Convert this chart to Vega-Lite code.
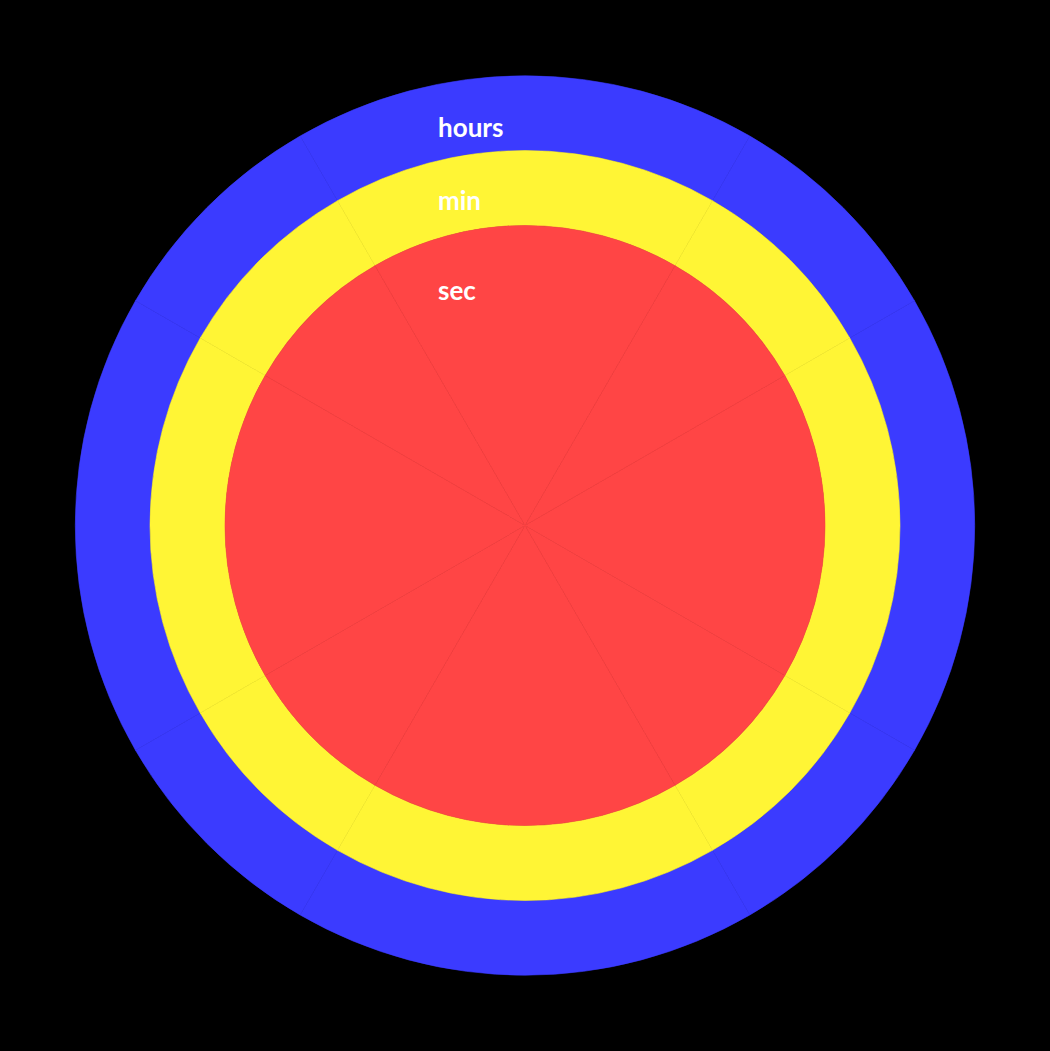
{
  "$schema": "https://vega.github.io/schema/vega-lite/v6.json",
  "width": 1050,
  "height": 1051,
  "autosize": {"type": "fit", "contains": "padding"},
  "padding": 0,
  "background": "#000000",
  "config": {"view": {"stroke": null}},
  "data": {
    "values": [
      {"ring": "hours", "seg": 1, "span": 60},
      {"ring": "hours", "seg": 2, "span": 30},
      {"ring": "hours", "seg": 3, "span": 60},
      {"ring": "hours", "seg": 4, "span": 30},
      {"ring": "hours", "seg": 5, "span": 60},
      {"ring": "hours", "seg": 6, "span": 30},
      {"ring": "hours", "seg": 7, "span": 60},
      {"ring": "hours", "seg": 8, "span": 30},
      {"ring": "min", "seg": 1, "span": 60},
      {"ring": "min", "seg": 2, "span": 30},
      {"ring": "min", "seg": 3, "span": 60},
      {"ring": "min", "seg": 4, "span": 30},
      {"ring": "min", "seg": 5, "span": 60},
      {"ring": "min", "seg": 6, "span": 30},
      {"ring": "min", "seg": 7, "span": 60},
      {"ring": "min", "seg": 8, "span": 30},
      {"ring": "sec", "seg": 1, "span": 60},
      {"ring": "sec", "seg": 2, "span": 30},
      {"ring": "sec", "seg": 3, "span": 60},
      {"ring": "sec", "seg": 4, "span": 30},
      {"ring": "sec", "seg": 5, "span": 60},
      {"ring": "sec", "seg": 6, "span": 30},
      {"ring": "sec", "seg": 7, "span": 60},
      {"ring": "sec", "seg": 8, "span": 30}
    ]
  },
  "layer": [
    {
      "transform": [{"filter": "datum.ring === 'hours'"}],
      "mark": {"type": "arc", "radius": 449.7, "radius2": 375, "fill": "#3b3bff", "stroke": "#3b3bff", "strokeWidth": 0.6},
      "encoding": {
        "theta": {"field": "span", "type": "quantitative", "stack": true, "scale": {"range": [-0.5236, 5.7596]}},
        "order": {"field": "seg", "type": "quantitative"}
      }
    },
    {
      "transform": [{"filter": "datum.ring === 'min'"}],
      "mark": {"type": "arc", "radius": 375, "radius2": 300, "fill": "#fff535", "stroke": "#fff535", "strokeWidth": 0.6},
      "encoding": {
        "theta": {"field": "span", "type": "quantitative", "stack": true, "scale": {"range": [-0.5236, 5.7596]}},
        "order": {"field": "seg", "type": "quantitative"}
      }
    },
    {
      "transform": [{"filter": "datum.ring === 'sec'"}],
      "mark": {"type": "arc", "radius": 300, "radius2": 0, "fill": "#ff4545", "stroke": "#ff4545", "strokeWidth": 0.6},
      "encoding": {
        "theta": {"field": "span", "type": "quantitative", "stack": true, "scale": {"range": [-0.5236, 5.7596]}},
        "order": {"field": "seg", "type": "quantitative"}
      }
    },
    {
      "transform": [{"filter": "datum.ring === 'hours' && datum.seg === 1"}],
      "mark": {"type": "text", "align": "left", "baseline": "alphabetic", "font": "Lato", "fontWeight": "bold", "fontSize": 26, "fill": "#ffffff"},
      "encoding": {
        "theta": {"value": -0.2203},
        "radius": {"value": 398},
        "text": {"field": "ring"}
      }
    },
    {
      "transform": [{"filter": "datum.ring === 'min' && datum.seg === 1"}],
      "mark": {"type": "text", "align": "left", "baseline": "alphabetic", "font": "Lato", "fontWeight": "bold", "fontSize": 26, "fill": "#ffffff"},
      "encoding": {
        "theta": {"value": -0.2691},
        "radius": {"value": 327.3},
        "text": {"field": "ring"}
      }
    },
    {
      "transform": [{"filter": "datum.ring === 'sec' && datum.seg === 1"}],
      "mark": {"type": "text", "align": "left", "baseline": "alphabetic", "font": "Lato", "fontWeight": "bold", "fontSize": 26, "fill": "#ffffff"},
      "encoding": {
        "theta": {"value": -0.3683},
        "radius": {"value": 241.7},
        "text": {"field": "ring"}
      }
    }
  ]
}
